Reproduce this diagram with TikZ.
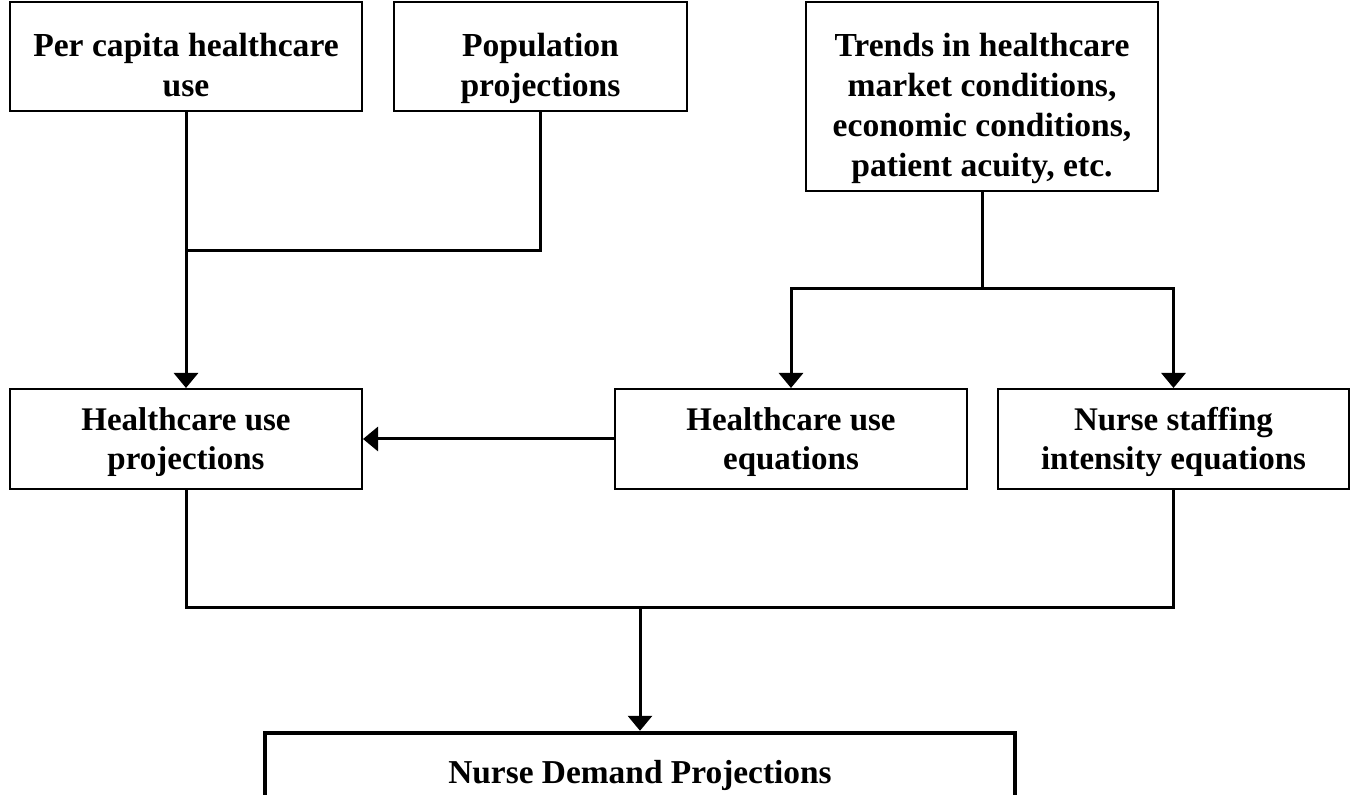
\documentclass[tikz,border=0pt]{standalone}
\usepackage{fontspec}
\setmainfont{Liberation Serif}
\usetikzlibrary{arrows.meta,positioning}

\begin{document}
\begin{tikzpicture}[x=0.5pt,y=-0.5pt,
  box/.style={draw,line width=1pt,inner sep=0pt,align=center},
  toprow/.style={box,minimum height=54.5pt,text height=40pt,text depth=0pt,
    font=\fontsize{16.8}{19.8}\selectfont\bfseries},
  midrow/.style={box,minimum width=176pt,minimum height=50pt,text height=31pt,text depth=0pt,
    font=\fontsize{16.5}{19.5}\selectfont\bfseries},
  flow/.style={line width=1.5pt,-{Triangle[length=7.5pt,width=12pt]}},
  link/.style={line width=1.5pt}]
\useasboundingbox (0,0) rectangle (1351,795);
\clip (0,0) rectangle (1351,795);

\node[toprow,minimum width=176pt] (percap) at (186,56.5) {Per capita healthcare\\use};
\node[toprow,minimum width=146.5pt,right=15pt of percap] (pop) {Population\\projections};
\node[box,minimum width=176pt,minimum height=94.5pt,text height=80pt,text depth=0pt,
  font=\fontsize{16.8}{20}\selectfont\bfseries] (trend) at (982,96.5)
  {Trends in healthcare\\market conditions,\\economic conditions,\\patient acuity, etc.};

\node[midrow] (useproj) at (186,439) {Healthcare use\\projections};
\node[midrow] (useeq) at (791,439) {Healthcare use\\equations};
\node[midrow,minimum width=175.5pt,right=14.5pt of useeq] (staff) {Nurse staffing\\intensity equations};

\node[box,line width=2.2pt,minimum width=375pt,minimum height=42pt,text height=9pt,text depth=0pt,
  font=\fontsize{16.7}{20}\selectfont\bfseries] (demand) at (640,775) {Nurse Demand Projections};

% use and population feed the projections
\coordinate (j1) at (186,251);
\draw[flow] (percap) -- (useproj);
\draw[link] (pop) |- (j1);

% trends split to both equations
\coordinate (j2) at (982,289);
\draw[link] (trend) -- (j2);
\draw[flow] (j2) -| (useeq);
\draw[flow] (j2) -| (staff);
\draw[flow] (useeq) -- (useproj);

% combine into demand
\coordinate (j3) at (640,608);
\draw[link] (useproj) |- (j3) -| (staff);
\draw[flow] (j3) -- (demand);
\end{tikzpicture}
\end{document}
